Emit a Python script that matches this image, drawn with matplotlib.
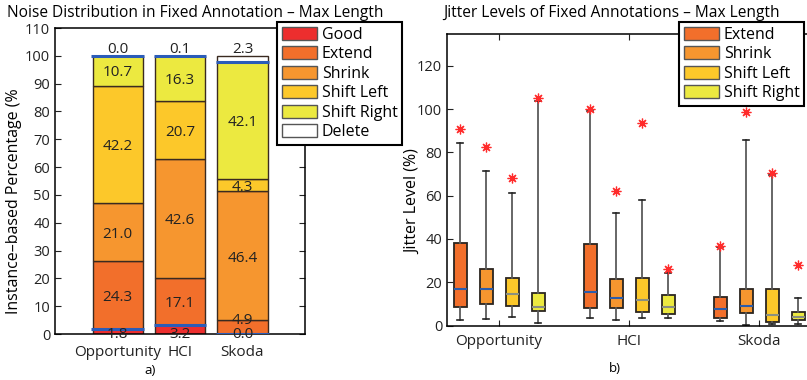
import matplotlib
matplotlib.use('Agg')
import matplotlib.pyplot as plt
from matplotlib.patches import Patch

plt.rcParams['font.family'] = ['Open Sans', 'DejaVu Sans']

# --- left panel: noise distribution (percent of instances) ---
datasets = ['Opportunity', 'HCI', 'Skoda']
noise_types = ['Good', 'Extend', 'Shrink', 'Shift Left', 'Shift Right', 'Delete']
noise_colors = ['#ed2e2e', '#f26f2b', '#f6962f', '#fcc82a', '#ece940', '#ffffff']

opportunity_pct = [1.8, 24.3, 21.0, 42.2, 10.7, 0.0]
hci_pct = [3.2, 17.1, 42.6, 20.7, 16.3, 0.1]
skoda_pct = [0.0, 4.9, 46.4, 4.3, 42.1, 2.3]

# --- right panel: jitter levels, one entry per box
# order: Opportunity (Extend, Shrink, Shift Left, Shift Right), HCI (...), Skoda (...)
jitter_types = ['Extend', 'Shrink', 'Shift Left', 'Shift Right']
jit_whislo = [2.6, 3.1, 3.7, 1.2, 3.4, 2.5, 3.3, 3.3, 2.0, 0.2, 0.8, 0.8]
jit_q1 = [8.7, 10.0, 9.0, 6.5, 8.2, 8.1, 6.1, 5.4, 3.6, 5.8, 1.6, 2.5]
jit_med = [16.8, 16.8, 14.5, 8.6, 15.7, 12.9, 11.8, 8.7, 7.5, 9.2, 4.8, 4.0]
jit_q3 = [38.1, 26.1, 22.1, 15.2, 37.5, 21.6, 21.9, 14.2, 13.1, 17.0, 17.0, 6.2]
jit_whishi = [84.6, 71.5, 61.3, 103.7, 99.4, 52.1, 57.9, 24.1, 36.1, 85.8, 69.5, 12.8]
jit_outlier = [91.0, 82.3, 68.1, 105.3, 100.2, 62.4, 93.6, 26.3, 36.9, 98.8, 70.3, 27.8]

W, H = 807, 380
fig = plt.figure(figsize=(W / 100, H / 100), dpi=100)

# ---------------- left: stacked bars ----------------
ax1 = fig.add_axes([55 / W, 1 - 334 / H, 250 / W, 306 / H])
pcts = [opportunity_pct, hci_pct, skoda_pct]
xs = [1, 2, 3]
bar_w = 0.8
bottoms = [0.0, 0.0, 0.0]
for t, name in enumerate(noise_types):
    vals = [p[t] for p in pcts]
    ax1.bar(xs, vals, bar_w, bottom=bottoms, color=noise_colors[t],
            edgecolor='#3a2a20', linewidth=1.0, label=name, zorder=2)
    for i, v in enumerate(vals):
        b = bottoms[i]
        if t == 0:
            y = -0.3
        elif t == len(noise_types) - 1:
            y = 102.3
        elif v < 5 and b < 5:
            y = b + v - 0.2
        else:
            y = b + v / 2 - 0.8
        ax1.text(xs[i], y, '%.1f' % v, ha='center', va='center',
                 fontsize=11, color='#222222', zorder=4)
    bottoms = [bottoms[i] + vals[i] for i in range(3)]

# blue marker lines at top of Good and bottom of Delete
good_top = [p[0] for p in pcts]
delete_bottom = [100 - p[-1] for p in pcts]
for i in range(3):
    for yv in (good_top[i], delete_bottom[i]):
        ax1.plot([xs[i] - 0.42, xs[i] + 0.42], [yv, yv], color='#2b5cb8',
                 lw=2.2, zorder=3, solid_capstyle='butt')

ax1.set_xlim(0, 4)
ax1.set_ylim(0, 110)
ax1.set_yticks(range(0, 111, 10))
ax1.set_xticks(xs)
ax1.set_xticklabels(datasets)
ax1.tick_params(direction='in', right=True, length=4, labelsize=10.5, colors='#222222')
ax1.tick_params(axis='x', length=0, pad=8, labelsize=11)
for s in ax1.spines.values():
    s.set_linewidth(1.1)

fig.text(195 / W, 1 - 13 / H, 'Noise Distribution in Fixed Annotation \u2013 Max Length',
         ha='center', va='center', fontsize=11.2)
fig.text(14 / W, 1 - 201 / H, 'Instance\u2013based Percentage (%', rotation=90,
         ha='center', va='center', fontsize=11.5)
fig.text(150 / W, 1 - 371 / H, 'a)', ha='center', va='center', fontsize=9.5)

leg1 = fig.legend(handles=[Patch(facecolor=c, edgecolor='#555555', label=n)
                           for n, c in zip(noise_types, noise_colors)],
                  loc='upper left', bbox_to_anchor=(277 / W, 1 - 22 / H),
                  fontsize=11.5, handlelength=2.2, handleheight=0.85,
                  labelspacing=0.22, handletextpad=0.3, borderpad=0.3,
                  borderaxespad=0, fancybox=False, framealpha=1, edgecolor='black')
leg1.get_frame().set_linewidth(1.5)

# ---------------- right: box plots ----------------
ax2 = fig.add_axes([447 / W, 1 - 325.5 / H, 364 / W, 292 / H])
positions = []
stats = []
for g in range(len(datasets)):
    for t in range(len(jitter_types)):
        k = g * len(jitter_types) + t
        positions.append(1 + 5 * g + t)
        stats.append(dict(whislo=jit_whislo[k], q1=jit_q1[k], med=jit_med[k],
                          q3=jit_q3[k], whishi=jit_whishi[k], fliers=[jit_outlier[k]]))

bp = ax2.bxp(stats, positions=positions, widths=0.5, patch_artist=True, showfliers=True,
             boxprops=dict(edgecolor='#2b2520', linewidth=1.3),
             medianprops=dict(color='#2b5cab', linewidth=1.5),
             whiskerprops=dict(color='#5a5a5a', linewidth=1.3),
             capprops=dict(color='#222222', linewidth=1.2),
             flierprops=dict(marker=(8, 2, 0), markeredgecolor='#ff2b2b',
                             markersize=7, markeredgewidth=0.9))
box_colors = noise_colors[1:5]
median_colors = ['#2b5cab', '#2b5cab', '#8a8f80', '#8a8f80']
for k, patch in enumerate(bp['boxes']):
    patch.set_facecolor(box_colors[k % 4])
    bp['medians'][k].set_color(median_colors[k % 4])

ax2.set_xlim(0.5, 14.5)
ax2.set_ylim(0, 135)
ax2.set_yticks(range(0, 121, 20))
ax2.set_xticks([2.5, 7.5, 12.5])
ax2.set_xticklabels(datasets)
ax2.tick_params(direction='in', top=True, right=False, length=4, labelsize=10.5,
                colors='#222222')
ax2.tick_params(axis='x', labelsize=11, pad=6)
for s in ax2.spines.values():
    s.set_linewidth(1.1)

fig.text(612 / W, 1 - 13 / H, 'Jitter Levels of Fixed Annotations \u2013 Max Length',
         ha='center', va='center', fontsize=11.2)
fig.text(413 / W, 1 - 202 / H, 'Jitter Level (%)', rotation=90,
         ha='center', va='center', fontsize=11.5)
fig.text(615 / W, 1 - 369 / H, 'b)', ha='center', va='center', fontsize=9.5)

leg2 = fig.legend(handles=[Patch(facecolor=c, edgecolor='#555555', label=n)
                           for n, c in zip(jitter_types, box_colors)],
                  loc='upper left', bbox_to_anchor=(679 / W, 1 - 22 / H),
                  fontsize=11.5, handlelength=2.2, handleheight=0.85,
                  labelspacing=0.22, handletextpad=0.3, borderpad=0.3,
                  borderaxespad=0, fancybox=False, framealpha=1, edgecolor='black')
leg2.get_frame().set_linewidth(1.5)

fig.savefig('out.png', dpi=100)
